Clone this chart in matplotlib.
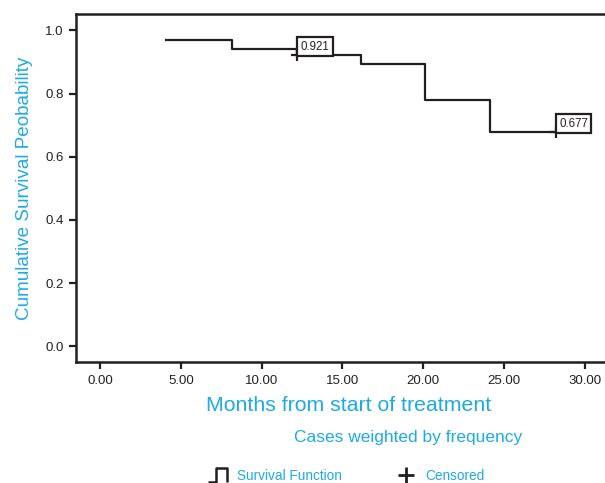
import matplotlib
matplotlib.use('Agg')
import matplotlib.pyplot as plt
from matplotlib.lines import Line2D
from matplotlib.path import Path

plt.rcParams['font.family'] = ['Liberation Sans', 'DejaVu Sans']

# 生存曲线数据
step_times = [4.08, 8.15, 12.2, 16.15, 20.1, 24.15, 28.7]
step_surv = [0.970, 0.941, 0.921, 0.893, 0.780, 0.677, 0.677]
censor_times = [12.2, 28.2]
censor_surv = [0.921, 0.677]
censor_labels = ['0.921', '0.677']
x_ticks = [0, 5, 10, 15, 20, 25, 30]
y_ticks = [0.0, 0.2, 0.4, 0.6, 0.8, 1.0]

ink = '#231f20'
blue = '#1eaae4'

fig = plt.figure(figsize=(6.05, 4.83), dpi=100)
ax = fig.add_axes([0.126, 0.25, 0.899, 0.721])

ax.step(step_times, step_surv, where='post', color=ink, lw=1.6)
ax.plot(censor_times, censor_surv, ls='none', marker='+', ms=9, mew=1.6, color=ink)

# 数值标签框，左下角对齐数据点
for t, s, lab in zip(censor_times, censor_surv, censor_labels):
    ax.annotate(lab, (t, s), xytext=(2.6, 1.8), textcoords='offset points',
                ha='left', va='bottom', fontsize=8.3, color=ink,
                bbox=dict(boxstyle='square,pad=0.3', fc='white', ec=ink, lw=1.6))

ax.set_xlim(-1.49, 32.2)
ax.set_ylim(-0.05, 1.0515)
ax.set_xticks(x_ticks)
ax.set_xticklabels([f'{v:.2f}' for v in x_ticks])
ax.set_yticks(y_ticks)
ax.set_yticklabels([f'{v:.1f}' for v in y_ticks])
ax.tick_params(colors=ink, labelsize=9.5, width=1.6, length=5, pad=4)

for side in ['left', 'bottom', 'top']:
    ax.spines[side].set_linewidth(1.8)
    ax.spines[side].set_color(ink)
ax.spines['right'].set_visible(False)

ax.set_ylabel('Cumulative Survival Peobability', color=blue, fontsize=13.6, labelpad=9)
ax.set_xlabel('Months from start of treatment', color=blue, fontsize=15.3, labelpad=7)
fig.text(0.675, 0.095, 'Cases weighted by frequency', color=blue, fontsize=12.5,
         ha='center', va='center')

# 图例：阶梯图标 + 删失标记
step_icon = Path([(-1.0, -0.75), (-0.2, -0.75), (-0.2, 0.75), (0.9, 0.75), (0.9, -0.75)],
                 [Path.MOVETO, Path.LINETO, Path.LINETO, Path.LINETO, Path.LINETO])
handles = [
    Line2D([], [], ls='none', marker=step_icon, ms=14, mew=1.8, mec=ink, mfc='none'),
    Line2D([], [], ls='none', marker='+', ms=11, mew=2.0, color=ink),
]
leg = fig.legend(handles, ['Survival Function', 'Censored'], loc='center',
                 bbox_to_anchor=(0.572, 0.015), ncol=2, frameon=False, fontsize=9.8,
                 handletextpad=0.7, columnspacing=3.9, handlelength=1.5)
for txt in leg.get_texts():
    txt.set_color(blue)

fig.savefig('out.png', dpi=100)
